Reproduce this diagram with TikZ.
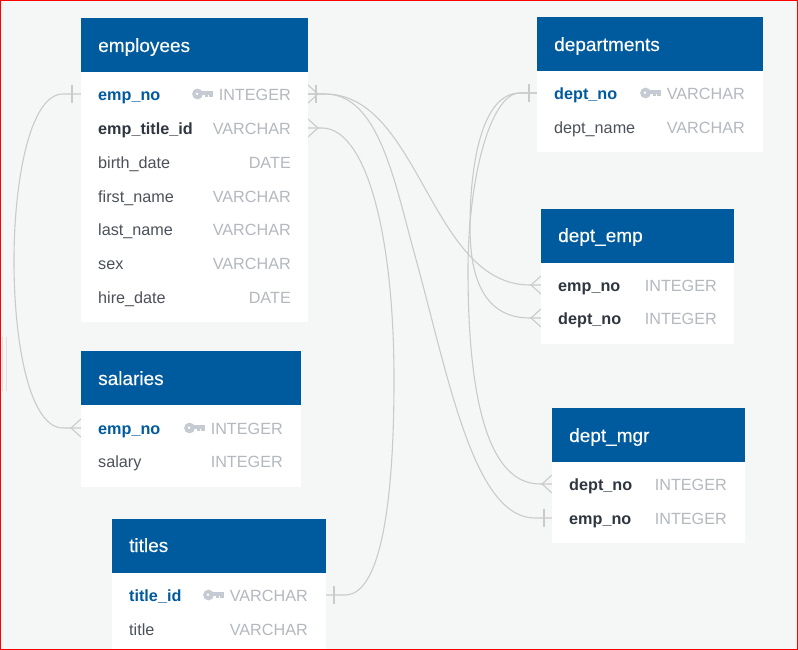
\documentclass[tikz,border=0pt]{standalone}
\usepackage{fontspec}
\setmainfont{Liberation Sans}
\newfontfamily\headfont[FakeBold=0.25]{Liberation Sans}

\definecolor{canvas}{HTML}{F5F7F7}
\definecolor{headblue}{HTML}{005A9E}
\definecolor{rowdark}{HTML}{2F3640}
\definecolor{rowgrey}{HTML}{4C5159}
\definecolor{typegrey}{HTML}{B4B8BF}
\definecolor{keygrey}{HTML}{C5CAD3}
\definecolor{linkgrey}{HTML}{CACACA}

\tikzset{
    head/.style={fill=headblue, inner sep=0pt, anchor=north west},
    body/.style={fill=white, inner sep=0pt, anchor=north west},
    title/.style={white, inner sep=0pt, anchor=base west, font=\fontsize{19}{19}\headfont},
    pkname/.style={headblue, inner sep=0pt, anchor=base west, yshift=-0.6pt, font=\fontsize{16.2}{16}\selectfont\bfseries},
    fkname/.style={rowdark, inner sep=0pt, anchor=base west, yshift=-0.6pt, font=\fontsize{16.2}{16}\selectfont\bfseries},
    plain/.style={rowgrey, inner sep=0pt, anchor=base west, yshift=-0.6pt, font=\fontsize{16.2}{16}\selectfont},
    type/.style={typegrey, inner sep=0pt, anchor=base east, yshift=-0.6pt, font=\fontsize{16.2}{16}\selectfont},
    link/.style={linkgrey, line width=1.1pt},
    keyicon/.pic={
        \fill[keygrey] (5.5,0) circle (5.4);
        \fill[white] (5,-0.3) circle (1.4);
        \fill[keygrey] (9,-2.6) rectangle (21,1);
        \fill[keygrey] (13,0) rectangle (15.8,3.4);
        \fill[keygrey] (17,0) rectangle (21,3.4);
    }
}

\begin{document}
\begin{tikzpicture}[x=1pt, y=-1pt]
    \fill[canvas] (0,0) rectangle (798,650);
    \useasboundingbox (0,0) rectangle (798,650);
    \draw[black!12, line width=0.8pt] (2,337) -- (2,391);
    \draw[black!12, line width=0.8pt] (6,337) -- (6,391);

    % table edges, where the connectors end
    \coordinate (empnoL) at (81,94);
    \coordinate (empnoR) at (308,94);
    \coordinate (titleidE) at (308,128);
    \coordinate (salnoL) at (81,428);
    \coordinate (titlenoR) at (326,595);
    \coordinate (deptnoL) at (537,93);
    \coordinate (deptempnoL) at (541,285);
    \coordinate (deptempdeptL) at (541,318);
    \coordinate (mgrdeptL) at (552,484);
    \coordinate (mgrempL) at (552,518);

    % connectors
    \draw[link] (empnoL) -- (63,94) .. controls (30,94) and (14,180) .. (14,261) .. controls (14,345) and (30,428) .. (63,428) -- (salnoL);
    \draw[link] (empnoR) -- (325,94) .. controls (420,94) and (430,285) .. (530,285) -- (deptempnoL);
    \draw[link] (empnoR) -- (325,94) .. controls (380,94) and (395,185) .. (417,263) .. controls (450,385) and (475,518) .. (535,518) -- (mgrempL);
    \draw[link] (titleidE) -- (322,128) .. controls (365,128) and (394,230) .. (394,380) .. controls (394,480) and (385,595) .. (345,595) -- (titlenoR);
    \draw[link] (deptnoL) -- (520,93) .. controls (480,93) and (470,170) .. (470,227) .. controls (470,280) and (485,318) .. (530,318) -- (deptempdeptL);
    \draw[link] (deptnoL) -- (520,93) .. controls (490,93) and (468,180) .. (468,270) .. controls (468,370) and (480,484) .. (540,484) -- (mgrdeptL);

    % crow feet and bars
    \draw[link] (empnoL) ++(-9,-9) -- ++(0,18);
    \draw[link] (empnoR) ++(0,-9) -- ++(10,9) -- ++(-10,9);
    \draw[link] (empnoR) ++(8,-9) -- ++(0,18);
    \draw[link] (titleidE) ++(0,-9) -- ++(10,9) -- ++(-10,9);
    \draw[link] (salnoL) ++(0,-9) -- ++(-10,9) -- ++(10,9);
    \draw[link] (titlenoR) ++(8,-9) -- ++(0,18);
    \draw[link] (deptnoL) ++(-8,-9) -- ++(0,18);
    \draw[link] (deptempnoL) ++(0,-9) -- ++(-10,9) -- ++(10,9);
    \draw[link] (deptempdeptL) ++(0,-9) -- ++(-10,9) -- ++(10,9);
    \draw[link] (mgrdeptL) ++(0,-9) -- ++(-10,9) -- ++(10,9);
    \draw[link] (mgrempL) ++(-8,-9) -- ++(0,18);

    % employees
    \node[body, minimum width=227pt, minimum height=250pt] (employeesbody) at (81,72) {};
    \node[head, minimum width=227pt, minimum height=54pt] (employeeshead) at (81,18) {};
    \node[title] (employees) at (98,52) {employees};
    \node[pkname] (employees1) at (98,99.5) {emp\_no};
    \pic at (192,94) {keyicon};
    \node[type] (employees1t) at (291,99.5) {INTEGER};
    \node[fkname] (employees2) at (98,133.5) {emp\_title\_id};
    \node[type] (employees2t) at (291,133.5) {VARCHAR};
    \node[plain] (employees3) at (98,167.5) {birth\_date};
    \node[type] (employees3t) at (291,167.5) {DATE};
    \node[plain] (employees4) at (98,201.5) {first\_name};
    \node[type] (employees4t) at (291,201.5) {VARCHAR};
    \node[plain] (employees5) at (98,234.5) {last\_name};
    \node[type] (employees5t) at (291,234.5) {VARCHAR};
    \node[plain] (employees6) at (98,268.5) {sex};
    \node[type] (employees6t) at (291,268.5) {VARCHAR};
    \node[plain] (employees7) at (98,302.5) {hire\_date};
    \node[type] (employees7t) at (291,302.5) {DATE};

    % salaries
    \node[body, minimum width=220pt, minimum height=82pt] (salariesbody) at (81,405) {};
    \node[head, minimum width=220pt, minimum height=54pt] (salarieshead) at (81,351) {};
    \node[title] (salaries) at (98,385) {salaries};
    \node[pkname] (salaries1) at (98,433.5) {emp\_no};
    \pic at (184,428) {keyicon};
    \node[type] (salaries1t) at (283,433.5) {INTEGER};
    \node[plain] (salaries2) at (98,466.5) {salary};
    \node[type] (salaries2t) at (283,466.5) {INTEGER};

    % titles
    \node[body, minimum width=214pt, minimum height=77pt] (titlesbody) at (112,573) {};
    \node[head, minimum width=214pt, minimum height=54pt] (titleshead) at (112,519) {};
    \node[title] (titles) at (129,552) {titles};
    \node[pkname] (titles1) at (129,600.5) {title\_id};
    \pic at (203,595) {keyicon};
    \node[type] (titles1t) at (308,600.5) {VARCHAR};
    \node[plain] (titles2) at (129,634.5) {title};
    \node[type] (titles2t) at (308,634.5) {VARCHAR};

    % departments
    \node[body, minimum width=226pt, minimum height=81pt] (departmentsbody) at (537,71) {};
    \node[head, minimum width=226pt, minimum height=54pt] (departmentshead) at (537,17) {};
    \node[title] (departments) at (554,51) {departments};
    \node[pkname] (departments1) at (554,98.5) {dept\_no};
    \pic at (640,93) {keyicon};
    \node[type] (departments1t) at (745,98.5) {VARCHAR};
    \node[plain] (departments2) at (554,132.5) {dept\_name};
    \node[type] (departments2t) at (745,132.5) {VARCHAR};

    % dept_emp
    \node[body, minimum width=193pt, minimum height=81pt] (deptempbody) at (541,263) {};
    \node[head, minimum width=193pt, minimum height=54pt] (deptemphead) at (541,209) {};
    \node[title] (deptemp) at (558,242) {dept\_emp};
    \node[fkname] (deptemp1) at (558,290.5) {emp\_no};
    \node[type] (deptemp1t) at (717,290.5) {INTEGER};
    \node[fkname] (deptemp2) at (558,323.5) {dept\_no};
    \node[type] (deptemp2t) at (717,323.5) {INTEGER};

    % dept_mgr
    \node[body, minimum width=193pt, minimum height=81pt] (deptmgrbody) at (552,462) {};
    \node[head, minimum width=193pt, minimum height=54pt] (deptmgrhead) at (552,408) {};
    \node[title] (deptmgr) at (569,442) {dept\_mgr};
    \node[fkname] (deptmgr1) at (569,489.5) {dept\_no};
    \node[type] (deptmgr1t) at (727,489.5) {INTEGER};
    \node[fkname] (deptmgr2) at (569,523.5) {emp\_no};
    \node[type] (deptmgr2t) at (727,523.5) {INTEGER};

    \draw[red, line width=1.4pt] (0.5,0.5) rectangle (797.3,649.4);
\end{tikzpicture}
\end{document}
